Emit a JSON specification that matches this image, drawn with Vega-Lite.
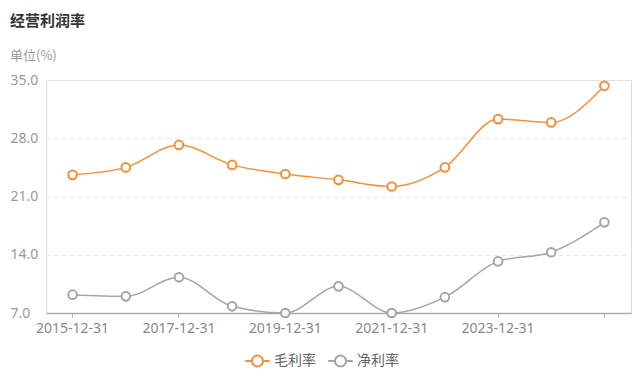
{
  "$schema": "https://vega.github.io/schema/vega-lite/v6.json",
  "width": 585,
  "height": 233,
  "autosize": "none",
  "padding": {"left": 46, "top": 80, "right": 9, "bottom": 67},
  "background": "white",
  "title": {
    "text": "经营利润率",
    "subtitle": "单位(%)",
    "anchor": "start",
    "frame": "group",
    "dx": -36,
    "offset": 10,
    "font": "Noto Sans CJK SC",
    "fontSize": 15,
    "fontWeight": "bold",
    "color": "#333333",
    "subtitleFont": "Noto Sans CJK SC",
    "subtitleFontSize": 13,
    "subtitleColor": "#999999",
    "subtitlePadding": 21
  },
  "data": {
    "values": [
      {"date": "2015-12-31", "series": "毛利率", "value": 23.6},
      {"date": "2016-12-31", "series": "毛利率", "value": 24.5},
      {"date": "2017-12-31", "series": "毛利率", "value": 27.2},
      {"date": "2018-12-31", "series": "毛利率", "value": 24.8},
      {"date": "2019-12-31", "series": "毛利率", "value": 23.7},
      {"date": "2020-12-31", "series": "毛利率", "value": 23.0},
      {"date": "2021-12-31", "series": "毛利率", "value": 22.2},
      {"date": "2022-12-31", "series": "毛利率", "value": 24.5},
      {"date": "2023-12-31", "series": "毛利率", "value": 30.3},
      {"date": "2024-12-31", "series": "毛利率", "value": 29.9},
      {"date": "2025-12-31", "series": "毛利率", "value": 34.3},
      {"date": "2015-12-31", "series": "净利率", "value": 9.2},
      {"date": "2016-12-31", "series": "净利率", "value": 9.0},
      {"date": "2017-12-31", "series": "净利率", "value": 11.3},
      {"date": "2018-12-31", "series": "净利率", "value": 7.8},
      {"date": "2019-12-31", "series": "净利率", "value": 7.0},
      {"date": "2020-12-31", "series": "净利率", "value": 10.2},
      {"date": "2021-12-31", "series": "净利率", "value": 7.0},
      {"date": "2022-12-31", "series": "净利率", "value": 8.9},
      {"date": "2023-12-31", "series": "净利率", "value": 13.2},
      {"date": "2024-12-31", "series": "净利率", "value": 14.3},
      {"date": "2025-12-31", "series": "净利率", "value": 17.9}
    ]
  },
  "mark": {
    "type": "line",
    "interpolate": "monotone",
    "strokeWidth": 1.5,
    "point": {"filled": false, "fill": "white", "size": 75, "strokeWidth": 2, "opacity": 1}
  },
  "encoding": {
    "x": {
      "field": "date",
      "type": "nominal",
      "sort": null,
      "scale": {"type": "band", "paddingInner": 0, "paddingOuter": 0},
      "axis": {
        "title": null,
        "values": ["2015-12-31", "2017-12-31", "2019-12-31", "2021-12-31", "2023-12-31", "2025-12-31"],
        "labelExpr": "datum.value == '2025-12-31' ? '' : datum.label",
        "labelAngle": 0,
        "labelFont": "Noto Sans",
        "labelFontSize": 14,
        "labelColor": "#888888",
        "labelPadding": 4,
        "tickColor": "#aaaaaa",
        "tickSize": 4,
        "domainColor": "#aaaaaa",
        "domainWidth": 1.5,
        "grid": false
      }
    },
    "y": {
      "field": "value",
      "type": "quantitative",
      "scale": {"domain": [7, 35], "nice": false, "zero": false},
      "axis": {
        "title": null,
        "values": [7, 14, 21, 28, 35],
        "format": ".1f",
        "labelAlign": "left",
        "labelPadding": 36,
        "ticks": false,
        "domain": false,
        "labelFont": "Noto Sans",
        "labelFontSize": 14,
        "labelColor": "#999999",
        "gridColor": "#e6e6e6",
        "gridDash": [4, 4],
        "gridWidth": 1
      }
    },
    "color": {
      "field": "series",
      "type": "nominal",
      "sort": ["毛利率", "净利率"],
      "scale": {"domain": ["毛利率", "净利率"], "range": ["#f0913a", "#a5a5a5"]},
      "legend": {
        "title": null,
        "orient": "none",
        "legendX": 198,
        "legendY": 267,
        "direction": "horizontal",
        "symbolType": "M -1 0 L -0.45 0 M 1 0 L 0.45 0 M 0.45 0 A 0.45 0.45 0 1 1 -0.45 0 A 0.45 0.45 0 1 1 0.45 0 Z",
        "symbolSize": 600,
        "symbolStrokeWidth": 2,
        "symbolFillColor": "white",
        "labelFont": "Noto Sans CJK SC",
        "labelFontSize": 14,
        "labelColor": "#666666",
        "columnPadding": 8,
        "labelOffset": 3
      }
    }
  }
}
